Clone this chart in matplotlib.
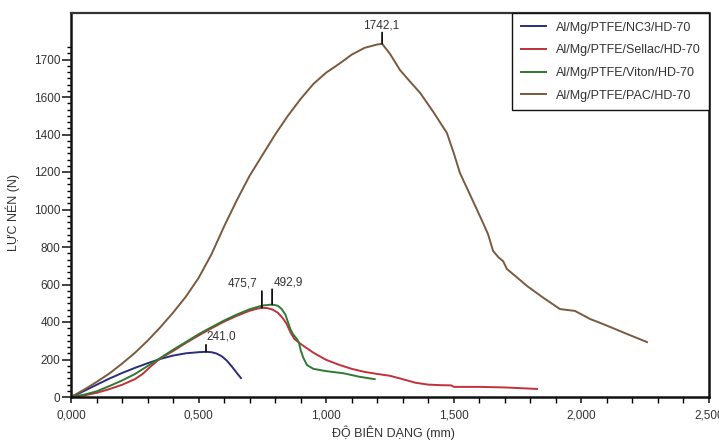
import numpy as np
import matplotlib.pyplot as plt
from matplotlib.ticker import FixedLocator, FuncFormatter

plt.rcParams['font.family'] = ['Liberation Sans', 'DejaVu Sans']

# compression force vs. deformation, four compositions
nc3_x = [0, 0.03, 0.06, 0.10, 0.15, 0.20, 0.25, 0.30, 0.35, 0.40, 0.45, 0.50, 0.529, 0.55, 0.57,
         0.59, 0.61, 0.63, 0.65, 0.666]
nc3_y = [0, 18, 38, 65, 98, 128, 155, 180, 203, 221, 233, 239, 241.0, 239, 232, 218, 195, 163, 128, 101]

sellac_x = [0, 0.05, 0.10, 0.15, 0.20, 0.25, 0.28, 0.31, 0.34, 0.37, 0.40, 0.45, 0.50, 0.55, 0.60,
            0.65, 0.70, 0.73, 0.748, 0.77, 0.79, 0.81, 0.83, 0.845, 0.86, 0.875, 0.90, 0.95, 1.00,
            1.05, 1.10, 1.15, 1.20, 1.25, 1.30, 1.35, 1.40, 1.45, 1.49, 1.50, 1.60, 1.70, 1.826]
sellac_y = [0, 8, 22, 42, 65, 95, 122, 160, 195, 222, 245, 288, 328, 366, 402, 433, 460, 471, 475.7,
            474, 466, 450, 420, 390, 345, 310, 283, 236, 198, 172, 150, 134, 123, 113, 95, 76, 66,
            63, 62, 54, 54, 51, 43]

viton_x = [0, 0.05, 0.10, 0.15, 0.20, 0.25, 0.30, 0.35, 0.40, 0.45, 0.50, 0.55, 0.60, 0.65, 0.70,
           0.75, 0.788, 0.81, 0.825, 0.84, 0.85, 0.86, 0.87, 0.885, 0.893, 0.90, 0.91, 0.925, 0.95,
           1.00, 1.07, 1.13, 1.19]
viton_y = [0, 12, 30, 58, 88, 122, 165, 208, 252, 293, 335, 372, 408, 440, 468, 488, 492.9, 487,
           470, 440, 400, 360, 335, 310, 290, 250, 210, 170, 150, 138, 126, 108, 95]

pac_x = [0, 0.05, 0.10, 0.15, 0.20, 0.25, 0.30, 0.35, 0.40, 0.45, 0.50, 0.55, 0.60, 0.65, 0.70,
         0.75, 0.80, 0.85, 0.90, 0.95, 1.00, 1.05, 1.10, 1.15, 1.20, 1.219, 1.25, 1.289, 1.33,
         1.368, 1.42, 1.473, 1.50, 1.524, 1.57, 1.611, 1.634, 1.654, 1.675, 1.693, 1.708, 1.75,
         1.787, 1.85, 1.916, 1.975, 2.034, 2.085, 2.179, 2.257]
pac_y = [0, 38, 80, 125, 178, 235, 300, 372, 450, 535, 635, 760, 910, 1050, 1180, 1290, 1400, 1500,
         1590, 1635, 1665, 1688, 1713, 1731, 1740, 1742.1, 1715, 1672, 1640, 1611, 1520, 1408, 1300,
         1195, 1060, 939, 869, 779, 745, 725, 683, 635, 592, 530, 469, 459, 416, 389, 336, 293]

series = [
    (nc3_x, nc3_y, '#2a2e78', 'Al/Mg/PTFE/NC3/HD-70'),
    (sellac_x, sellac_y, '#c1303b', 'Al/Mg/PTFE/Sellac/HD-70'),
    (viton_x, viton_y, '#2f7a33', 'Al/Mg/PTFE/Viton/HD-70'),
    (pac_x, pac_y, '#7a5a3e', 'Al/Mg/PTFE/PAC/HD-70'),
]

# peak labels: (x, y, text, tick length, text dx, text dy, ha)
peaks = [
    (1.219, 1742.1, '1742,1', 8, -1, 8.5, 'center'),
    (0.748, 475.7, '475,7', 12, -3, 13.5, 'right'),
    (0.788, 492.9, '492,9', 11, 1, 11.5, 'left'),
    (0.529, 241.0, '241,0', 5, 0, 6.5, 'left'),
]

y_major = [0, 200, 400, 600, 800, 1000, 1200, 1400, 1600, 1700]


def fwd(y):
    y = np.asarray(y, dtype=float)
    return np.where(y <= 1600, y, 1600 + 2 * (y - 1600))


def inv(t):
    t = np.asarray(t, dtype=float)
    return np.where(t <= 1600, t, 1600 + (t - 1600) / 2)


fig = plt.figure(figsize=(7.19, 4.42), dpi=100)
ax = fig.add_axes([71 / 719, 45 / 442, 638 / 719, 384 / 442])
ax.set_yscale('function', functions=(fwd, inv))

for x, y, c, lab in series:
    ax.plot(x, y, color=c, lw=1.4, label=lab, solid_joinstyle='round')

for px, py, txt, tl, dx, dy, ha in peaks:
    ax.annotate('', xy=(px, py), xytext=(0, tl), textcoords='offset points',
                arrowprops=dict(arrowstyle='-', lw=1.3, color='#111111', shrinkA=0, shrinkB=0))
    ax.annotate(txt, xy=(px, py), xytext=(dx, dy), textcoords='offset points',
                ha=ha, va='bottom', fontsize=8.5, color='#333333')

ax.set_xlim(0, 2.5)
ax.set_ylim(0, 1824)

ax.xaxis.set_major_locator(FixedLocator(np.arange(0, 2.51, 0.5)))
ax.xaxis.set_minor_locator(FixedLocator(np.arange(0, 2.51, 0.1)))
ax.xaxis.set_major_formatter(FuncFormatter(lambda v, p: f'{v:.3f}'.replace('.', ',')))
ax.yaxis.set_major_locator(FixedLocator(y_major))
ax.yaxis.set_minor_locator(FixedLocator(list(np.arange(0, 1600, 200 / 6)) +
                                        list(1600 + np.arange(0, 9) * 100 / 6)))
ax.yaxis.set_major_formatter(FuncFormatter(lambda v, p: f'{v:.0f}'))

ax.tick_params(axis='both', which='major', labelsize=8.5, labelcolor='#333333', width=1.2, color='#222222')
ax.tick_params(axis='y', which='major', length=6.5, pad=1)
ax.tick_params(axis='y', which='minor', length=3, width=1)
ax.tick_params(axis='x', which='major', length=4, pad=5)
ax.tick_params(axis='x', which='minor', length=4, width=1)

for side in ['left', 'bottom', 'right']:
    ax.spines[side].set_linewidth(1.8)
    ax.spines[side].set_color('#111111')
ax.spines['top'].set_linewidth(1.6)
ax.spines['top'].set_color('#333333')

ax.set_xlabel('ĐỘ BIÊN DẠNG (mm)', fontsize=9, color='#333333')
ax.set_ylabel('LỰC NÉN (N)', fontsize=9, color='#333333')
ax.xaxis.set_label_coords(0.506, -0.074)
ax.yaxis.set_label_coords(-0.080, 0.48)

leg = ax.legend(loc='upper right', bbox_to_anchor=(1, 1), borderaxespad=0, fontsize=9,
                fancybox=False, edgecolor='#111111', framealpha=1, handlelength=2.0,
                handletextpad=0.8, labelspacing=0.85, borderpad=0.7)
leg.get_frame().set_linewidth(1.0)
for t in leg.get_texts():
    t.set_color('#333333')

fig.savefig('out.png', dpi=100)
